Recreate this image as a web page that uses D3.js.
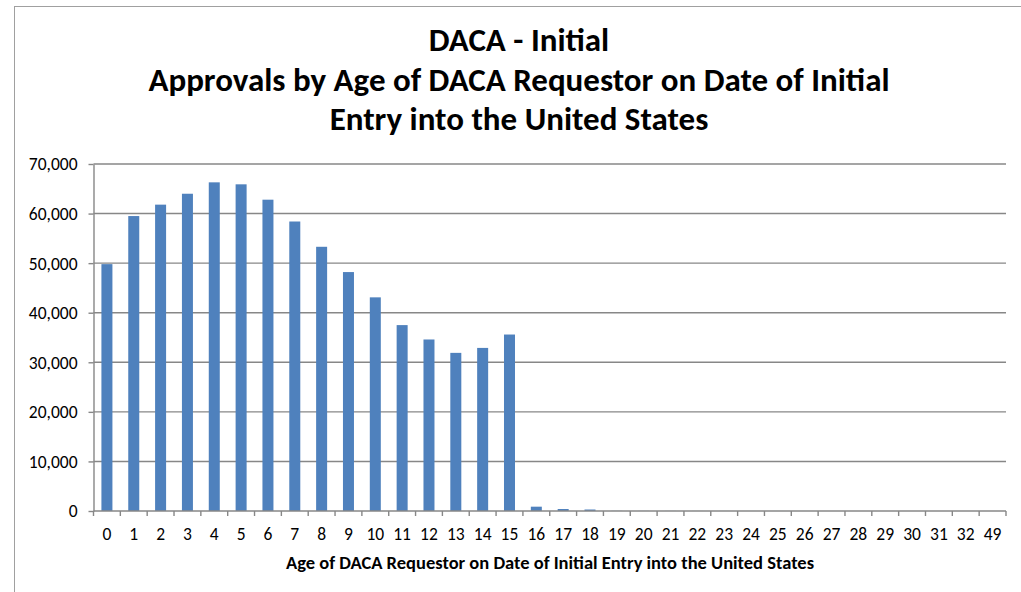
<!DOCTYPE html>
<html><head><meta charset="utf-8">
<script src="https://cdn.jsdelivr.net/npm/d3@7"></script>
<style>
html,body{margin:0;padding:0;background:#fff;}
svg{display:block;font-family:Carlito, Calibri, Lato, "Open Sans", sans-serif;}
</style></head>
<body><svg id="c" width="1021" height="592"></svg>
<script>
const categories = ["0","1","2","3","4","5","6","7","8","9","10","11","12","13","14","15","16","17","18","19","20","21","22","23","24","25","26","27","28","29","30","31","32","49"];
const approvals = [49800,59500,61800,64000,66300,65900,62800,58400,53300,48200,43100,37500,34600,31900,32900,35600,870,400,300,30,20,15,10,10,5,5,5,3,3,2,2,1,1,1];
const yTicks = [0,10000,20000,30000,40000,50000,60000,70000];
const titleLines = ["DACA - Initial","Approvals by Age of DACA Requestor on Date of Initial","Entry into the United States"];
const xTitle = "Age of DACA Requestor on Date of Initial Entry into the United States";

const FONT = "Carlito, Calibri, Lato, sans-serif";
const svg = d3.select("#c");
// chart frame
svg.append("rect").attr("x",14.5).attr("y",6.5).attr("width",1030).attr("height",610)
  .attr("fill","#fff").attr("stroke","#a0a0a0").attr("stroke-width",1);

const m = {left:93.5, right:1006, top:164, bottom:511};
const x = d3.scaleBand().domain(categories).range([m.left,m.right]).paddingInner(0.59).paddingOuter(0.295);
const y = d3.scaleLinear().domain([0,70000]).range([m.bottom,m.top]);
const gridColor = "#878787";

// gridlines
svg.append("g").selectAll("line").data(yTicks.filter(d=>d>0)).join("line")
  .attr("x1",m.left).attr("x2",m.right).attr("y1",d=>y(d)).attr("y2",d=>y(d))
  .attr("stroke",gridColor).attr("stroke-width",1.4);

// bars
svg.append("g").selectAll("rect").data(categories).join("rect")
  .attr("x",(d)=>x(d)).attr("width",x.bandwidth())
  .attr("y",(d,i)=>y(approvals[i])).attr("height",(d,i)=>m.bottom-y(approvals[i]))
  .attr("fill","#4f81bd");

// y axis
const ya = svg.append("g").attr("transform",`translate(${m.left},0)`)
  .call(d3.axisLeft(y).tickValues(yTicks).tickSize(5).tickSizeOuter(0).tickPadding(11).tickFormat(d3.format(",")));
ya.attr("font-family",FONT);
ya.select(".domain").attr("stroke",gridColor).attr("stroke-width",1.4);
ya.selectAll(".tick line").attr("stroke",gridColor).attr("stroke-width",1.4);
ya.selectAll("text").attr("font-size",17.5).attr("fill","#000").attr("dy","0.34em");

// x axis
const xa = svg.append("g").attr("transform",`translate(0,${m.bottom})`);
xa.append("line").attr("x1",m.left).attr("x2",m.right).attr("stroke",gridColor).attr("stroke-width",1.4);
const bounds = d3.range(categories.length+1).map(i=>m.left + i*(m.right-m.left)/categories.length);
xa.selectAll("line.t").data(bounds).join("line").attr("class","t")
  .attr("x1",d=>d).attr("x2",d=>d).attr("y1",0).attr("y2",5)
  .attr("stroke",gridColor).attr("stroke-width",1.4);
xa.selectAll("text").data(categories).join("text")
  .attr("x",d=>x(d)+x.bandwidth()/2).attr("y",29).attr("text-anchor","middle")
  .attr("font-size",17.5).attr("fill","#000").text(d=>d);

// titles
svg.append("g").selectAll("text").data(titleLines).join("text")
  .attr("x",519).attr("y",(d,i)=>51+i*39.5).attr("text-anchor","middle")
  .attr("font-size",33).attr("font-weight","bold").attr("fill","#000").text(d=>d);

svg.append("text").attr("x",550).attr("y",569).attr("text-anchor","middle")
  .attr("font-size",18.5).attr("font-weight","bold").attr("fill","#000").text(xTitle);
</script></body></html>
